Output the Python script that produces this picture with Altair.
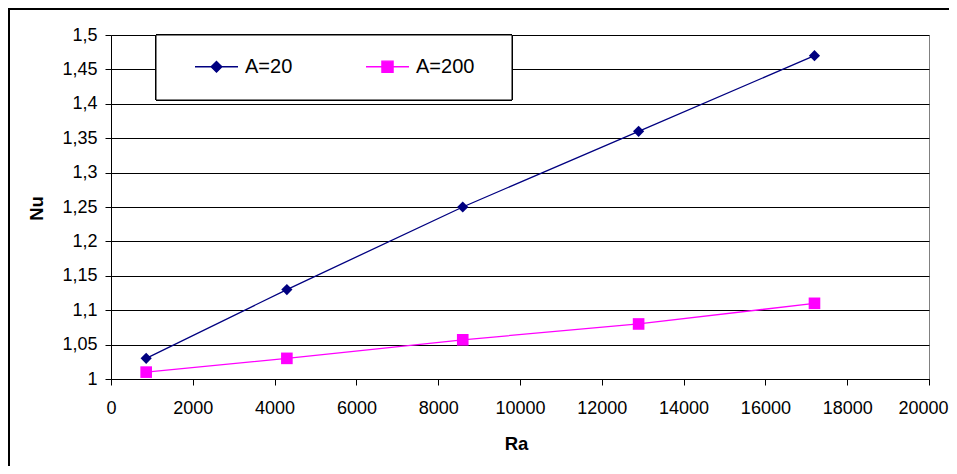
import altair as alt
import pandas as pd

ra = [860, 4300, 8600, 12900, 17200]
nu_a20 = [1.03, 1.13, 1.25, 1.36, 1.47]
nu_a200 = [1.01, 1.03, 1.057, 1.08, 1.11]
series = ["A=20", "A=200"]
colors = ["#000080", "#FF00FF"]
shapes = ["diamond", "square"]
legend_paths = [
    "M-1,0H1M0,-0.25L0.25,0L0,0.25L-0.25,0Z",
    "M-1,0H1M-0.26,-0.26H0.26V0.26H-0.26Z",
]
x_ticks = list(range(0, 20001, 2000))
y_ticks = [1.0, 1.05, 1.1, 1.15, 1.2, 1.25, 1.3, 1.35, 1.4, 1.45, 1.5]

rows = []
for r, v in zip(ra, nu_a20):
    rows.append({"Ra": r, "Nu": v, "series": series[0]})
for r, v in zip(ra, nu_a200):
    rows.append({"Ra": r, "Nu": v, "series": series[1]})
df = pd.DataFrame(rows)

FONT = "Liberation Sans"
W, H = 818, 344

x_enc = alt.X(
    "Ra:Q",
    scale=alt.Scale(domain=[0, 20000], nice=False, zero=False),
    axis=alt.Axis(
        values=x_ticks, title="Ra", grid=False, labelOverlap=False, labelFlush=False,
        format="d", tickSize=6, labelPadding=14, titleX=405, titleY=64,
        titleBaseline="middle", titleAlign="center",
        labelOffset={"condition": {"test": "datum.value >= 20000", "value": -6}, "value": 0},
    ),
)
y_enc = alt.Y(
    "Nu:Q",
    scale=alt.Scale(domain=[1, 1.5], nice=False, zero=False),
    axis=alt.Axis(
        values=y_ticks, title="Nu", grid=True, tickSize=6, labelPadding=8,
        labelExpr="replace(format(datum.value, '~g'), '.', ',')",
        titleX=-75, titleY=173, titleBaseline="middle", titleAlign="center",
    ),
)

leg = alt.Legend(
    title=None, orient="none", legendX=83, legendY=9, direction="horizontal",
    padding=0, columnPadding=70, labelOffset=6, symbolSize=1849,
    symbolStrokeWidth=1.3, symbolOpacity=1, labelFontSize=20, labelFont=FONT,
    labelColor="black", labelLimit=200,
)

base = alt.Chart(df)

frame = base.mark_rect(fill=None, stroke="black", strokeWidth=2).encode(
    x=alt.value(-102), x2=alt.value(3000), y=alt.value(-26), y2=alt.value(3000)
)
legend_box = base.mark_rect(fill="white", stroke="black", strokeWidth=1).encode(
    x=alt.value(45), x2=alt.value(401), y=alt.value(0), y2=alt.value(65)
)

color_nolegend = alt.Color("series:N", scale=alt.Scale(domain=series, range=colors), legend=None)

lines = base.mark_line(strokeWidth=1.3).encode(x=x_enc, y=y_enc, color=color_nolegend)
points_a20 = base.transform_filter(alt.datum.series == series[0]).mark_point(
    filled=True, opacity=1, size=125, shape=shapes[0]
).encode(x=x_enc, y=y_enc, color=color_nolegend)
points_a200 = base.transform_filter(alt.datum.series == series[1]).mark_point(
    filled=True, opacity=1, size=135, shape=shapes[1]
).encode(x=x_enc, y=y_enc, color=color_nolegend)

legend_layer = base.mark_point(
    filled=True, size=1849, strokeWidth=1.3, opacity=0
).encode(
    x=x_enc, y=y_enc,
    fill=alt.Fill("series:N", scale=alt.Scale(domain=series, range=colors), legend=leg),
    stroke=alt.Stroke("series:N", scale=alt.Scale(domain=series, range=colors), legend=leg),
    shape=alt.Shape("series:N", scale=alt.Scale(domain=series, range=legend_paths), legend=leg),
)

chart = alt.layer(frame, legend_box, legend_layer, lines, points_a20, points_a200).properties(
    width=W, height=H,
    autosize=alt.AutoSizeParams(type="none"),
    padding={"left": 103, "top": 27, "right": 20, "bottom": 87},
    background="white",
).configure_view(
    stroke="#808080", strokeWidth=1
).configure_axis(
    labelFont=FONT, labelFontSize=18, labelColor="black",
    titleFont=FONT, titleFontSize=18.5, titleFontWeight="bold", titleColor="black",
    domainColor="black", domainWidth=1, tickColor="black", tickWidth=1,
    gridColor="black", gridWidth=1, gridOpacity=1,
)

chart.save("out.html", embed_options={"renderer": "svg", "actions": False})
